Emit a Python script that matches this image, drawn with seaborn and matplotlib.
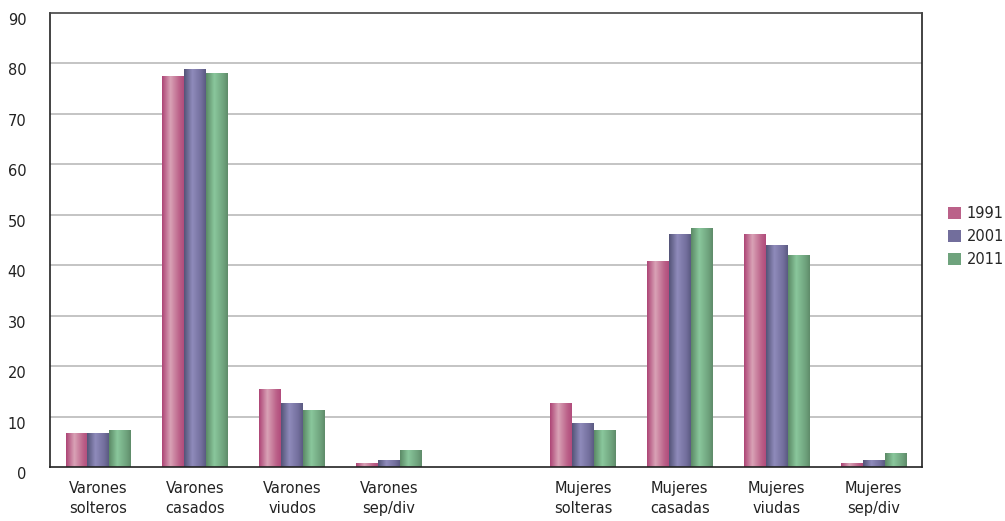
import numpy as np
import pandas as pd
import seaborn as sns
import matplotlib.pyplot as plt
from matplotlib.colors import LinearSegmentedColormap
from matplotlib.patches import Patch
from matplotlib.transforms import ScaledTranslation

# categories (one empty slot between men and women)
categories = ["Varones\nsolteros", "Varones\ncasados", "Varones\nviudos", "Varones\nsep/div", "",
              "Mujeres\nsolteras", "Mujeres\ncasadas", "Mujeres\nviudas", "Mujeres\nsep/div"]
years = ["1991", "2001", "2011"]
v1991 = [6.7, 77.5, 15.5, 0.8, np.nan, 12.7, 40.8, 46.2, 0.8]
v2001 = [6.7, 78.9, 12.7, 1.4, np.nan, 8.7, 46.2, 44.0, 1.4]
v2011 = [7.3, 78.1, 11.3, 3.4, np.nan, 7.3, 47.4, 42.0, 2.8]

# gradient stops per series: dark edge, light centre, mid right
grad = {
    "1991": ["#ad4576", "#d9a2b6", "#bb6189", "#b24c7c"],
    "2001": ["#545478", "#8f8bbb", "#726e9c", "#5b5a82"],
    "2011": ["#5b8a66", "#8ac79c", "#6fa37d", "#5f8c6a"],
}

rows = []
for y, vals in zip(years, [v1991, v2001, v2011]):
    for c, v in zip(categories, vals):
        rows.append({"cat": c if c else " ", "year": y, "value": v})
df = pd.DataFrame(rows)
order = [c if c else " " for c in categories]
n = len(categories)

sns.set_style("white")
fig = plt.figure(figsize=(10.05, 5.21), dpi=100)
ax = fig.add_axes([50 / 1005, 1 - 467 / 521, 872 / 1005, 454 / 521])

sns.barplot(data=df, x="cat", y="value", hue="year", order=order, hue_order=years,
            palette=[grad[y][1] for y in years], width=0.68, gap=0, ax=ax,
            legend=False, errorbar=None, saturation=1)

ax.set_xlim(-0.5, n - 0.5)
ax.set_ylim(0, 90)

# replace flat fills with horizontal gradients
for yr, cont in zip(years, ax.containers):
    cmap = LinearSegmentedColormap.from_list(
        yr, list(zip([0, 0.38, 0.8, 1.0], grad[yr])))
    for patch in cont.patches:
        h = patch.get_height()
        if not np.isfinite(h) or h == 0:
            continue
        x0, w = patch.get_x(), patch.get_width()
        patch.set_facecolor("none")
        patch.set_edgecolor("none")
        img = ax.imshow(np.linspace(0, 1, 64)[None, :], cmap=cmap, aspect="auto",
                        extent=[x0, x0 + w, 0, h], origin="lower", zorder=2)
        img.set_clip_path(patch)
ax.set_xlim(-0.5, n - 0.5)
ax.set_ylim(0, 90)

# grid and frame
ax.set_yticks(range(0, 100, 10))
for yv in range(10, 90, 10):
    ax.axhline(yv, color="#b4b4b4", lw=1.1, zorder=1)
for s in ["left", "right", "top", "bottom"]:
    ax.spines[s].set_visible(True)
    ax.spines[s].set_color("#222222")
    ax.spines[s].set_linewidth(1.2)
ax.spines["top"].set_color("#444444")

ax.set_xticks(range(n))
ax.set_xticklabels(categories, fontsize=10.5, color="#222222", linespacing=1.45)
ax.set_xticks(np.arange(-0.5, n, 1.0), minor=True)
ax.tick_params(axis="x", which="major", length=0, pad=10)
ax.tick_params(axis="x", which="minor", length=6, width=1.2, color="#222222", direction="out")
ax.tick_params(axis="y", length=7, width=1.2, color="#222222", direction="out", pad=10,
               labelsize=10.5, labelcolor="#222222")
ax.set_xlabel("")
ax.set_ylabel("")
for lab in ax.get_yticklabels():
    lab.set_transform(lab.get_transform() + ScaledTranslation(0, -0.06, fig.dpi_scale_trans))

# legend
handles = [Patch(facecolor=grad[y][2], edgecolor="none") for y in years]
fig.legend(handles, years, loc="upper left", bbox_to_anchor=(945 / 1005, 1 - 203 / 521),
           frameon=False, fontsize=10.5, handlelength=0.9, handleheight=0.9,
           handletextpad=0.4, labelspacing=0.55, borderaxespad=0, borderpad=0.2)

fig.savefig("out.png", dpi=100)
